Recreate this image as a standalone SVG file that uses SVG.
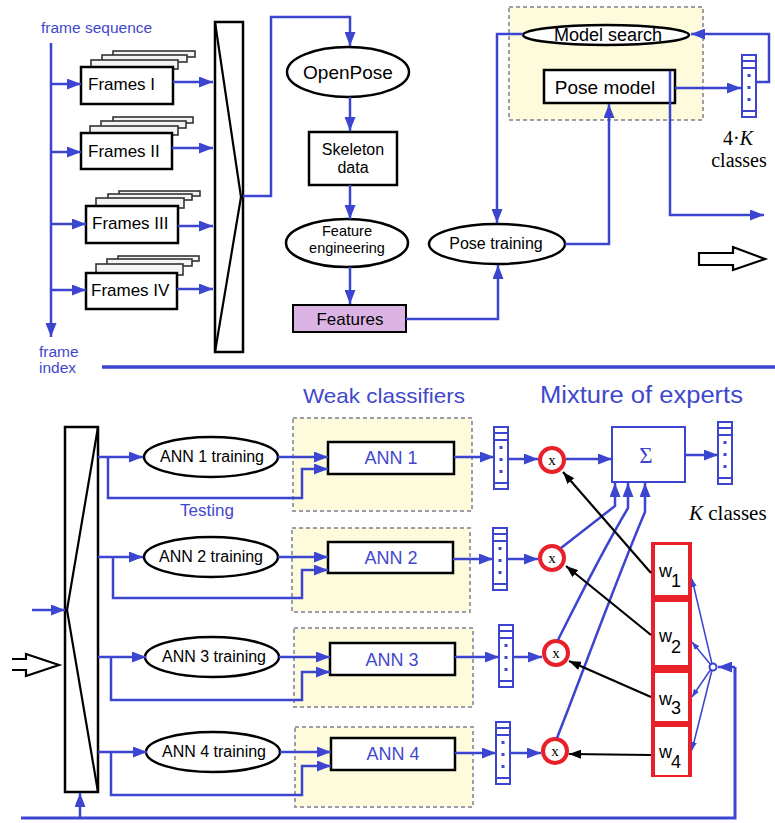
<svg xmlns="http://www.w3.org/2000/svg" xmlns:xlink="http://www.w3.org/1999/xlink" width="775" height="823" viewBox="0 0 775 823">
<style>
.b{stroke:#3c45cf;stroke-width:2.5;fill:none}
.bt{stroke:#3c45cf;stroke-width:1.5;fill:none}
.kl{stroke:#000;stroke-width:2.2;fill:none}
.k{stroke:#000;stroke-width:2.5;fill:#fff}
.sh{stroke:#333;stroke-width:1.6;fill:#f4f4f4}
.yb{fill:#fdfbdc;stroke:#9c9cab;stroke-width:2;stroke-dasharray:4 3}
.t{font-family:"Liberation Sans",Arial,sans-serif;fill:#000}
.tb{font-family:"Liberation Sans",Arial,sans-serif;fill:#3f48cc}
.tm{font-family:"Liberation Serif","Times New Roman",serif;fill:#000}
.vec{stroke:#3c45cf;stroke-width:2;fill:#fff}
.red{fill:#e8202a}
</style>
<defs>
<marker id="ab" viewBox="0 0 14 11" refX="14" refY="5.5" markerWidth="14" markerHeight="11" markerUnits="userSpaceOnUse" orient="auto"><path d="M0,0 L14,5.5 L0,11 z" fill="#3c45cf"/></marker>
<marker id="as" viewBox="0 0 8 6" refX="8" refY="3" markerWidth="8" markerHeight="6" markerUnits="userSpaceOnUse" orient="auto"><path d="M0,0 L8,3 L0,6 z" fill="#3c45cf"/></marker>
<marker id="ak" viewBox="0 0 12 9" refX="12" refY="4.5" markerWidth="12" markerHeight="9" markerUnits="userSpaceOnUse" orient="auto"><path d="M0,0 L12,4.5 L0,9 z" fill="#000"/></marker>
<g id="vec">
<rect class="vec" x="0" y="0" width="14" height="62"/>
<line class="vec" x1="0" y1="6" x2="14" y2="6"/>
<line class="vec" x1="0" y1="13" x2="14" y2="13"/>
<line class="vec" x1="0" y1="56" x2="14" y2="56"/>
<rect x="5.5" y="19" width="3" height="3" fill="#3c45cf"/>
<rect x="5.5" y="31" width="3" height="3" fill="#3c45cf"/>
<rect x="5.5" y="43" width="3" height="3" fill="#3c45cf"/>
</g>
</defs>
<rect width="775" height="823" fill="#fff"/>

<!-- background regions -->
<g id="pose-region"><rect class="yb" x="509" y="7" width="194" height="113"/></g>
<g id="weak-regions">
<rect class="yb" x="293" y="418" width="179" height="93"/>
<rect class="yb" x="292" y="528" width="178" height="84"/>
<rect class="yb" x="294" y="628" width="179" height="79"/>
<rect class="yb" x="295" y="727" width="178" height="80"/>
</g>

<!-- top labels -->
<g id="labels-top">
<text class="tb" x="41" y="33" font-size="15.5">frame sequence</text>
<text class="tb" x="39" y="357" font-size="15.5">frame</text>
<text class="tb" x="39" y="373" font-size="15.5">index</text>
</g>

<!-- frames -->
<g id="frames1">
<rect class="sh" x="113" y="51" width="82" height="6" stroke="#888"/>
<rect class="sh" x="102" y="55" width="85" height="7"/>
<rect class="sh" x="91" y="60" width="87" height="9"/>
<rect class="k" x="81" y="67" width="92" height="37"/>
<text class="t" x="88" y="90" font-size="17">Frames  I</text>
</g>
<g id="frames2">
<rect class="sh" x="113" y="117" width="80" height="6" stroke="#888"/>
<rect class="sh" x="101" y="121" width="85" height="7"/>
<rect class="sh" x="90" y="126" width="88" height="9"/>
<rect class="k" x="81" y="133" width="91" height="36"/>
<text class="t" x="88" y="157" font-size="17">Frames II</text>
</g>
<g id="frames3">
<rect class="sh" x="119" y="191" width="81" height="5" stroke="#888"/>
<rect class="sh" x="108" y="194" width="84" height="6"/>
<rect class="sh" x="96" y="198" width="88" height="10"/>
<rect class="k" x="86" y="206" width="92" height="37"/>
<text class="t" x="92" y="229" font-size="17">Frames III</text>
</g>
<g id="frames4">
<rect class="sh" x="118" y="256" width="81" height="5" stroke="#888"/>
<rect class="sh" x="107" y="259" width="85" height="7"/>
<rect class="sh" x="96" y="264" width="87" height="11"/>
<rect class="k" x="86" y="273" width="91" height="36"/>
<text class="t" x="91" y="296" font-size="17">Frames IV</text>
</g>

<g id="mux-top">
<rect class="k" x="215" y="22" width="28" height="330"/>
<path class="kl" d="M215,22 L241,197 L215,352"/>
</g>

<g id="openpose">
<ellipse class="k" cx="348" cy="72" rx="61" ry="25" stroke-width="3"/>
<text class="t" x="348" y="79" font-size="19" text-anchor="middle">OpenPose</text>
</g>
<g id="skeleton">
<rect class="k" x="309" y="132" width="88" height="53" stroke-width="2.2"/>
<text class="t" x="353" y="155" font-size="16" text-anchor="middle">Skeleton</text>
<text class="t" x="353" y="173" font-size="16" text-anchor="middle">data</text>
</g>
<g id="feature-engineering">
<ellipse class="k" cx="347" cy="243" rx="61" ry="24"/>
<text class="t" x="347" y="236" font-size="14.5" text-anchor="middle">Feature</text>
<text class="t" x="347" y="253" font-size="14.5" text-anchor="middle">engineering</text>
</g>
<g id="features">
<rect x="293" y="305" width="113" height="27" fill="#dbb4e3" stroke="#000" stroke-width="2"/>
<text class="t" x="350" y="325" font-size="17" text-anchor="middle">Features</text>
</g>
<g id="pose-training">
<ellipse class="k" cx="497" cy="244" rx="68" ry="20"/>
<text class="t" x="496" y="249" font-size="16" text-anchor="middle">Pose training</text>
</g>
<g id="model-search">
<ellipse class="k" cx="606" cy="35" rx="83" ry="10" fill="#fdfbdc"/>
<text class="t" x="608" y="41" font-size="18" text-anchor="middle">Model search</text>
</g>
<g id="pose-model">
<rect class="k" x="544" y="70" width="131" height="33" fill="#fdf9d2"/>
<text class="t" x="605" y="94" font-size="19" text-anchor="middle">Pose model</text>
</g>
<g id="vec-top"><use xlink:href="#vec" x="742" y="55"/></g>
<g id="classes-4k">
<text class="tm" x="738" y="145" font-size="20" text-anchor="middle">4·<tspan font-style="italic">K</tspan></text>
<text class="tm" x="739" y="167" font-size="20" text-anchor="middle">classes</text>
</g>
<g id="hollow-top">
<path d="M699,253 H733 V247 L765,259 L733,270 V265 H699 Z" fill="#fff" stroke="#000" stroke-width="2.2"/>
</g>

<!-- bottom -->
<g id="labels-bottom">
<text class="tb" x="303" y="403" font-size="21" textLength="162" lengthAdjust="spacingAndGlyphs">Weak classifiers</text>
<text class="tb" x="540" y="403" font-size="23" textLength="203" lengthAdjust="spacingAndGlyphs">Mixture of experts</text>
<text class="tb" x="180" y="516" font-size="17">Testing</text>
</g>
<g id="mux-bottom">
<rect class="k" x="65" y="427" width="33" height="365"/>
<path class="kl" d="M98,427 L67,610 L98,792"/>
</g>
<g id="hollow-bottom">
<path d="M12,659 H26 V654 L59,665 L26,676 V670 H12" fill="#fff" stroke="#000" stroke-width="2.2"/>
</g>

<g id="ann1-training"><ellipse class="k" cx="211" cy="457" rx="67" ry="20"/><text class="t" x="212" y="462" font-size="16" text-anchor="middle">ANN 1 training</text></g>
<g id="ann2-training"><ellipse class="k" cx="211" cy="557" rx="67" ry="20"/><text class="t" x="211" y="562" font-size="16" text-anchor="middle">ANN 2 training</text></g>
<g id="ann3-training"><ellipse class="k" cx="212" cy="657" rx="67" ry="20"/><text class="t" x="214" y="662" font-size="16" text-anchor="middle">ANN 3 training</text></g>
<g id="ann4-training"><ellipse class="k" cx="213" cy="752" rx="67" ry="20"/><text class="t" x="214" y="757" font-size="16" text-anchor="middle">ANN 4 training</text></g>

<g id="ann1"><rect class="k" x="328" y="442" width="126" height="32" fill="#fdf9d2"/><text class="tb" x="391" y="464" font-size="18" text-anchor="middle">ANN 1</text></g>
<g id="ann2"><rect class="k" x="328" y="542" width="125" height="31" fill="#fdf9d2"/><text class="tb" x="391" y="564" font-size="18" text-anchor="middle">ANN 2</text></g>
<g id="ann3"><rect class="k" x="330" y="643" width="125" height="32" fill="#fdf9d2"/><text class="tb" x="392" y="666" font-size="18" text-anchor="middle">ANN 3</text></g>
<g id="ann4"><rect class="k" x="331" y="738" width="124" height="32" fill="#fdf9d2"/><text class="tb" x="393" y="760" font-size="18" text-anchor="middle">ANN 4</text></g>

<g id="vec1"><use xlink:href="#vec" x="494" y="427"/></g>
<g id="vec2"><use xlink:href="#vec" x="493" y="528"/></g>
<g id="vec3"><use xlink:href="#vec" x="499" y="625"/></g>
<g id="vec4"><use xlink:href="#vec" x="496" y="722"/></g>

<g id="x1"><circle cx="552" cy="460" r="12" fill="#fff" stroke="#e8202a" stroke-width="4"/><text class="tm" x="552" y="465" font-size="15" text-anchor="middle">x</text></g>
<g id="x2"><circle cx="552" cy="558" r="12" fill="#fff" stroke="#e8202a" stroke-width="4"/><text class="tm" x="552" y="563" font-size="15" text-anchor="middle">x</text></g>
<g id="x3"><circle cx="556" cy="653" r="12" fill="#fff" stroke="#e8202a" stroke-width="4"/><text class="tm" x="556" y="658" font-size="15" text-anchor="middle">x</text></g>
<g id="x4"><circle cx="555" cy="751" r="12" fill="#fff" stroke="#e8202a" stroke-width="4"/><text class="tm" x="555" y="756" font-size="15" text-anchor="middle">x</text></g>

<g id="sum">
<rect x="612" y="427" width="73" height="55" fill="#fff" stroke="#3c45cf" stroke-width="2"/>
<text x="646" y="463" font-size="23" text-anchor="middle" font-family="Liberation Serif,Times New Roman,serif" fill="#3c45cf">Σ</text>
</g>
<g id="vec-out"><use xlink:href="#vec" x="718" y="422"/></g>
<g id="k-classes"><text class="tm" x="689" y="520" font-size="21"><tspan font-style="italic">K</tspan> classes</text></g>

<g id="weights">
<rect class="red" x="651" y="542" width="41" height="235"/>
<rect x="655" y="545" width="33" height="50" fill="#fff"/>
<rect x="655" y="602" width="33" height="63" fill="#fff"/>
<rect x="655" y="673" width="33" height="48" fill="#fff"/>
<rect x="655" y="727" width="33" height="48" fill="#fff"/>
<text class="t" x="659" y="577" font-size="18" fill="#333">w<tspan x="671" y="587">1</tspan></text>
<text class="t" x="659" y="642" font-size="18" fill="#333">w<tspan x="671" y="653">2</tspan></text>
<text class="t" x="659" y="705" font-size="18" fill="#333">w<tspan x="671" y="714">3</tspan></text>
<text class="t" x="659" y="758" font-size="18" fill="#333">w<tspan x="671" y="768">4</tspan></text>
</g>
<g id="junction"><circle cx="713" cy="667" r="3.5" fill="#fff" stroke="#3c45cf" stroke-width="2"/></g>

<!-- connectors -->
<g id="connectors">
<path class="b" d="M51,43 V337" marker-end="url(#ab)"/>
<path class="b" d="M51,84 H81" marker-end="url(#ab)"/>
<path class="b" d="M51,152 H81" marker-end="url(#ab)"/>
<path class="b" d="M51,224 H86" marker-end="url(#ab)"/>
<path class="b" d="M51,290 H86" marker-end="url(#ab)"/>
<path class="b" d="M173,82 H213" marker-end="url(#ab)"/>
<path class="b" d="M172,148 H213" marker-end="url(#ab)"/>
<path class="b" d="M178,226 H213" marker-end="url(#ab)"/>
<path class="b" d="M177,289 H213" marker-end="url(#ab)"/>
<path class="b" d="M243,196 H271 V17 H350 V46" marker-end="url(#ab)"/>
<path class="b" d="M350,97 V131" marker-end="url(#ab)"/>
<path class="b" d="M350,185 V219" marker-end="url(#ab)"/>
<path class="b" d="M350,267 V304" marker-end="url(#ab)"/>
<path class="b" d="M406,319 H498 V265" marker-end="url(#ab)"/>
<path class="b" d="M523,34 H497 V223" marker-end="url(#ab)"/>
<path class="b" d="M565,244 H609 V104" marker-end="url(#ab)"/>
<path class="b" d="M675,88 H741" marker-end="url(#ab)"/>
<path class="b" d="M756,82 H769 V34 H691" marker-end="url(#ab)"/>
<path class="b" d="M670,71 V215 H764" marker-end="url(#ab)"/>
<path d="M102,367 H775" stroke="#3c45cf" stroke-width="3.5" fill="none"/>

<path class="b" d="M32,610 H65" marker-end="url(#ab)"/>
<path d="M21,818 H735 V667" stroke="#3c45cf" stroke-width="3" fill="none"/>
<path class="b" d="M735,667 H718" marker-end="url(#ab)"/>
<path class="b" d="M80,818 V793" marker-end="url(#ab)"/>

<path class="b" d="M98,457 H143" marker-end="url(#ab)"/>
<path class="b" d="M278,457 H328" marker-end="url(#ab)"/>
<path class="b" d="M108,457 V498 H302 V469 H328" marker-end="url(#ab)"/>
<path class="b" d="M454,457 H494" marker-end="url(#ab)"/>
<path class="b" d="M508,459 H538" marker-end="url(#ab)"/>

<path class="b" d="M98,557 H143" marker-end="url(#ab)"/>
<path class="b" d="M278,557 H328" marker-end="url(#ab)"/>
<path class="b" d="M113,557 V598 H302 V570 H328" marker-end="url(#ab)"/>
<path class="b" d="M453,559 H493" marker-end="url(#ab)"/>
<path class="b" d="M507,559 H538" marker-end="url(#ab)"/>

<path class="b" d="M98,657 H146" marker-end="url(#ab)"/>
<path class="b" d="M279,657 H330" marker-end="url(#ab)"/>
<path class="b" d="M111,657 V700 H302 V672 H330" marker-end="url(#ab)"/>
<path class="b" d="M455,657 H499" marker-end="url(#ab)"/>
<path class="b" d="M513,657 H542" marker-end="url(#ab)"/>

<path class="b" d="M98,752 H147" marker-end="url(#ab)"/>
<path class="b" d="M280,752 H331" marker-end="url(#ab)"/>
<path class="b" d="M111,752 V795 H302 V766 H331" marker-end="url(#ab)"/>
<path class="b" d="M455,753 H496" marker-end="url(#ab)"/>
<path class="b" d="M510,753 H541" marker-end="url(#ab)"/>

<path class="b" d="M566,459 H612" marker-end="url(#ab)"/>
<path class="b" d="M685,455 H718" marker-end="url(#ab)"/>

<path class="b" d="M561,548 L615,506 V483" marker-end="url(#ab)"/>
<path class="b" d="M558,640 C572,612 600,555 628,508 V483" marker-end="url(#ab)"/>
<path class="b" d="M557,738 C580,680 620,570 645,512 V483" marker-end="url(#ab)"/>

<path class="kl" d="M651,573 L563,472" marker-end="url(#ak)"/>
<path class="kl" d="M651,635 L566,566" marker-end="url(#ak)"/>
<path class="kl" d="M651,697 L569,661" marker-end="url(#ak)"/>
<path class="kl" d="M651,755 L569,754" marker-end="url(#ak)"/>

<path class="bt" d="M712,664 L692,579" marker-end="url(#as)"/>
<path class="bt" d="M711,665 L692,642" marker-end="url(#as)"/>
<path class="bt" d="M711,669 L692,697" marker-end="url(#as)"/>
<path class="bt" d="M712,670 L692,750" marker-end="url(#as)"/>
</g>
</svg>
